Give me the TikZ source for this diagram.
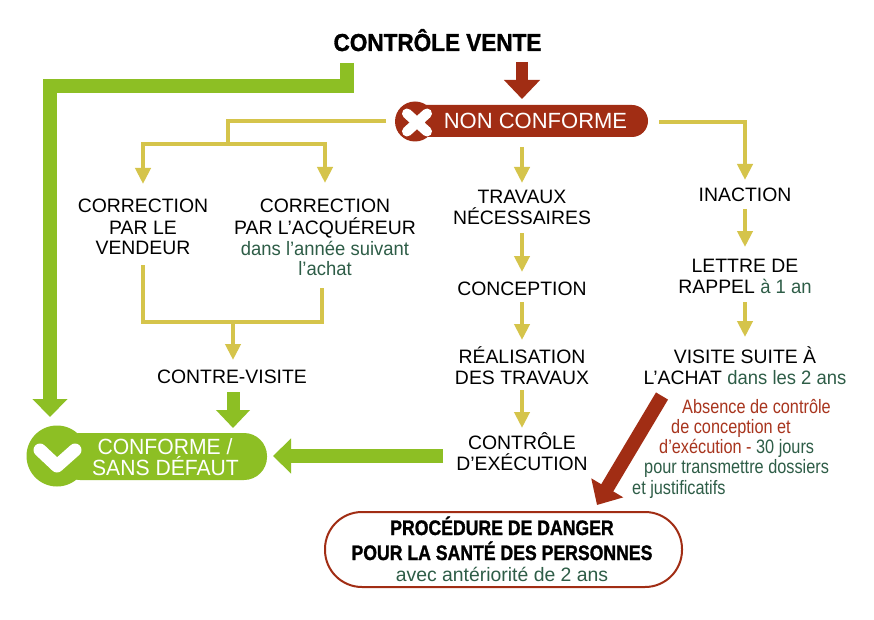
\documentclass[tikz,border=0pt]{standalone}
\usepackage{fontspec}
\setmainfont{Liberation Sans}
\newfontfamily\condf[FakeStretch=0.84]{Liberation Sans}
\newfontfamily\heavyf[FakeStretch=0.84, BoldFeatures={FakeBold=1.2}]{Liberation Sans}
\newfontfamily\grf[FakeStretch=0.95]{Liberation Sans}
\newfontfamily\whf[FakeStretch=0.96]{Liberation Sans}
\newfontfamily\titf[FakeStretch=0.92, BoldFeatures={FakeBold=1.3}]{Liberation Sans}
\usetikzlibrary{arrows.meta}
\definecolor{gr}{HTML}{8DBF24}
\definecolor{nc}{HTML}{A12D14}
\definecolor{yl}{HTML}{D5C44B}
\definecolor{dg}{HTML}{2E5D47}
\definecolor{rt}{HTML}{A8351E}
\begin{document}
\begin{tikzpicture}[x=1pt,y=-1pt,
  txt/.style={inner sep=0pt, anchor=base, text=black, font=\fontsize{19.4}{21}\selectfont},
  gtxt/.style={inner sep=0pt, anchor=base, text=dg, font=\grf\fontsize{19.4}{21}\selectfont},
  ctxt/.style={inner sep=0pt, anchor=base west, font=\condf\fontsize{19.4}{21}\selectfont},
  wtxt/.style={inner sep=0pt, anchor=base, text=white, font=\whf\fontsize{22}{22}\selectfont},
  btxt/.style={inner sep=0pt, anchor=base, text=black, font=\heavyf\bfseries\fontsize{21}{21}\selectfont},
  yline/.style={draw=yl, line width=4pt},
  yarr/.style={yline, -{Triangle[width=15pt,length=16pt]}},
  garr/.style={draw=gr, line width=14pt, -{Triangle[width=34pt,length=18pt]}},
  rarr/.style={draw=nc, line width=12.5pt, -{Triangle[width=35pt,length=19pt]}}
]
\useasboundingbox (0,0) rectangle (874,620);
\fill[white] (0,0) rectangle (874,620);

% ---- title
\node[inner sep=0pt, anchor=base, font=\titf\bfseries\fontsize{24.5}{26}\selectfont] (title) at (437.5,51) {CONTRÔLE VENTE};

% ---- NON CONFORME pill
\fill[nc, rounded corners=16pt] (410,105) rectangle (648,137);
\fill[nc] (415,121.5) circle[radius=20pt];
\draw[white, line width=10pt, line cap=round] (407,113.5) -- (427,131.5) (407,131.5) -- (427,113.5);
\node[inner sep=0pt, anchor=base, text=white, font=\fontsize{22}{22}\selectfont] (nonconf) at (535.5,129) {NON CONFORME};

% ---- CONFORME pill
\fill[gr, rounded corners=23pt] (57,433) rectangle (267,480);
\fill[gr] (57,456) circle[radius=30.5pt];
\draw[white, line width=13pt, line cap=round, line join=round] (40,450) -- (57,466) -- (75,450);
\node[wtxt] (conf1) at (165,454) {CONFORME /};
\node[wtxt] (conf2) at (165.5,475) {SANS DÉFAUT};

% ---- danger box
\draw[nc, line width=2pt, rounded corners=37pt] (325,512) rectangle (682,587);
\node[btxt] (dang1) at (502,535) {PROCÉDURE DE DANGER};
\node[btxt] (dang2) at (502,560) {POUR LA SANTÉ DES PERSONNES};
\node[gtxt, font=\fontsize{19.4}{21}\selectfont] (dang3) at (502,581) {avec antériorité de 2 ans};

% ---- left column texts
\node[txt] (cv1) at (143,213) {CORRECTION};
\node[txt] (cv2) at (143,234) {PAR LE};
\node[txt] (cv3) at (143,254) {VENDEUR};
\node[txt] (ca1) at (325,213) {CORRECTION};
\node[txt] (ca2) at (325,234) {PAR L’ACQUÉREUR};
\node[gtxt] (ca3) at (325,255) {dans l’année suivant};
\node[gtxt] (ca4) at (325,275) {l’achat};
\node[txt] (contre) at (232,383) {CONTRE-VISITE};

% ---- middle column
\node[txt] (tr1) at (522,204) {TRAVAUX};
\node[txt] (tr2) at (522,225) {NÉCESSAIRES};
\node[txt] (conc) at (522,295) {CONCEPTION};
\node[txt] (rea1) at (522,363) {RÉALISATION};
\node[txt] (rea2) at (522,384) {DES TRAVAUX};
\node[txt] (ce1) at (522,449) {CONTRÔLE};
\node[txt] (ce2) at (522,470) {D’EXÉCUTION};

% ---- right column
\node[txt] (inac) at (745,202) {INACTION};
\node[txt] (let1) at (745,272) {LETTRE DE};
\node[txt] (let2) at (745,293) {RAPPEL {\grf\color{dg}à 1 an}};
\node[txt] (vis1) at (745,363) {VISITE SUITE À};
\node[txt] (vis2) at (745,384) {L’ACHAT {\grf\color{dg}dans les 2 ans}};

% ---- note
\node[ctxt, text=rt] (n1) at (682,413) {Absence de contrôle};
\node[ctxt, text=rt] (n2) at (671,433) {de conception et};
\node[ctxt, text=rt] (n3) at (659,453) {d’exécution - {\color{dg}30 jours}};
\node[ctxt, text=dg] (n4) at (644,473) {pour transmettre dossiers};
\node[ctxt, text=dg] (n5) at (632,494) {et justificatifs};

% ---- coordinates for connectors
\coordinate (gA) at (347,63);
\coordinate (gB) at (50,86);
\coordinate (gC) at (50,417);
\coordinate (rA) at (522,62);
\coordinate (rB) at (522,99);
\coordinate (ncL) at (386,121);
\coordinate (ncR) at (659,122);
\coordinate (ncB) at (522,147);
\coordinate (split) at (228,144);
\coordinate (cvT) at (143,184);
\coordinate (caT) at (325,183);
\coordinate (trT) at (522,183);
\coordinate (inT) at (745,180);
\coordinate (cvB) at (143,265);
\coordinate (caB) at (322,288);
\coordinate (mrg) at (233,322);
\coordinate (cvisT) at (233,360);
\coordinate (tB) at (522,233);
\coordinate (cT) at (522,272);
\coordinate (cB) at (522,302);
\coordinate (rT) at (522,340);
\coordinate (reB) at (522,390);
\coordinate (ceT) at (522,428);
\coordinate (iB) at (745,209);
\coordinate (lT) at (745,247);
\coordinate (lB) at (745,302);
\coordinate (vT) at (745,337);
\coordinate (cvisB) at (233,392);
\coordinate (confT) at (233,428);
\coordinate (ceL) at (443,456);
\coordinate (confR) at (273,456);
\coordinate (dA) at (662,396);
\coordinate (dB) at (597,505);

% ---- green connectors
\draw[garr] (gA) |- (gB) -- (gC);
\draw[garr, line width=13pt, -{Triangle[width=33pt,length=18pt]}] (cvisB) -- (confT);
\draw[garr] (ceL) -- (confR);

% ---- red connectors
\draw[rarr] (rA) -- (rB);
\draw[rarr, line width=14pt, -{Triangle[width=36pt,length=20pt]}] (dA) -- (dB);

% ---- yellow connectors
\draw[yline] (ncL) -| (split);
\draw[yarr] (split) -| (cvT);
\draw[yarr] (split) -| (caT);
\draw[yarr] (ncB) -- (trT);
\draw[yarr] (ncR) -| (inT);
\draw[yline] (cvB) |- (mrg) -| (caB);
\draw[yarr] (mrg) -- (cvisT);
\draw[yarr] (tB) -- (cT);
\draw[yarr] (cB) -- (rT);
\draw[yarr] (reB) -- (ceT);
\draw[yarr] (iB) -- (lT);
\draw[yarr] (lB) -- (vT);
\end{tikzpicture}
\end{document}
